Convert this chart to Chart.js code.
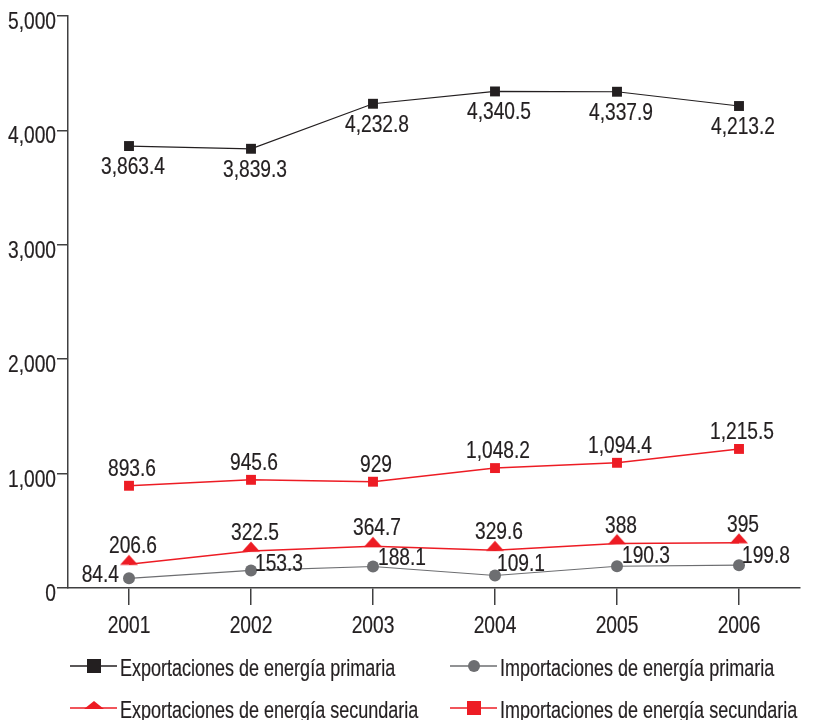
<!DOCTYPE html>
<html>
<head>
<meta charset="utf-8">
<script src="https://cdn.jsdelivr.net/npm/chart.js@4"></script>
<style>
  body { margin: 0; background: #fff; }
</style>
</head>
<body>
<canvas id="chart" width="813" height="720"></canvas>
<script>
const years = ["2001", "2002", "2003", "2004", "2005", "2006"];
const expPrimaria = [3863.4, 3839.3, 4232.8, 4340.5, 4337.9, 4213.2];
const impPrimaria = [84.4, 153.3, 188.1, 109.1, 190.3, 199.8];
const expSecundaria = [206.6, 322.5, 364.7, 329.6, 388, 395];
const impSecundaria = [893.6, 945.6, 929, 1048.2, 1094.4, 1215.5];
const yTicks = [0, 1000, 2000, 3000, 4000, 5000];

// condensed look: Liberation Sans squeezed horizontally
const FONT = '24px "Liberation Sans", Arial, sans-serif';
const NUM_SX = 0.8;
const LEG_SX = 0.75;
const TEXT = "#231f20";
const AXIS = "#404041";
const BLACK = "#231f20";
const GRAY = "#6d6e71";
const RED = "#ed1c24";

function squeezed(ctx, txt, x, y, align, sx) {
  ctx.save();
  ctx.translate(x, y);
  ctx.scale(sx, 1);
  ctx.textAlign = align;
  ctx.textBaseline = "alphabetic";
  ctx.strokeStyle = ctx.fillStyle;
  ctx.lineWidth = 0.2;
  ctx.fillText(txt, 0, 0);
  ctx.strokeText(txt, 0, 0);
  ctx.restore();
}

// flat triangle marker whose base sits on the data point
const tri = document.createElement("canvas");
tri.width = 20; tri.height = 28;
(function () {
  const c = tri.getContext("2d");
  c.fillStyle = RED;
  c.beginPath();
  c.moveTo(10, 4.5);
  c.lineTo(19, 14.5);
  c.lineTo(1, 14.5);
  c.closePath();
  c.fill();
})();

// label placement (dx, dy to baseline, align) per dataset / per point
const labelPos = [
  [4, 28, "center"],
  null,
  [4, -11, "center"],
  [3, -10, "center"]
];
const grayPos = [
  [-10, 4, "right"], [4, 1, "left"], [5, -1, "left"],
  [2, -5, "left"], [5, -3, "left"], [3, -2, "left"]
];

const fmt = v => v.toLocaleString("en-US", { maximumFractionDigits: 1 });

const textPlugin = {
  id: "textPlugin",
  afterDraw(chart) {
    const ctx = chart.ctx;
    ctx.save();
    ctx.font = FONT;
    ctx.fillStyle = TEXT;

    // axis tick labels
    const xs = chart.scales.x, ys = chart.scales.y;
    yTicks.forEach(v => {
      squeezed(ctx, v.toLocaleString("en-US"), 56, ys.getPixelForValue(v) + 13, "right", NUM_SX);
    });
    years.forEach((y, i) => {
      squeezed(ctx, y, xs.getPixelForValue(i), 633, "center", NUM_SX);
    });

    // point labels
    chart.data.datasets.forEach((ds, i) => {
      chart.getDatasetMeta(i).data.forEach((pt, j) => {
        const p = i === 1 ? grayPos[j] : labelPos[i];
        squeezed(ctx, fmt(ds.data[j]), pt.x + p[0], pt.y + p[1], p[2], NUM_SX);
      });
    });

    // legend
    const slots = [[70, 666], [450, 666], [70, 708], [450, 708]];
    chart.data.datasets.forEach((ds, i) => {
      const [lx, ly] = slots[i];
      ctx.strokeStyle = ds.borderColor;
      ctx.lineWidth = 1.5;
      ctx.beginPath();
      ctx.moveTo(lx, ly);
      ctx.lineTo(lx + 47, ly);
      ctx.stroke();
      const cx = lx + 24;
      ctx.fillStyle = ds.backgroundColor;
      if (i === 1) {
        ctx.beginPath();
        ctx.arc(cx, ly, 6, 0, Math.PI * 2);
        ctx.fill();
      } else if (i === 2) {
        ctx.beginPath();
        ctx.moveTo(cx, ly - 7);
        ctx.lineTo(cx + 10, ly + 1);
        ctx.lineTo(cx - 10, ly + 1);
        ctx.closePath();
        ctx.fill();
      } else {
        ctx.fillRect(cx - 7, ly - 7, 14, 14);
      }
      ctx.fillStyle = TEXT;
      squeezed(ctx, ds.label, lx + 50, ly + 10, "left", LEG_SX);
    });
    ctx.restore();
  }
};

new Chart(document.getElementById("chart"), {
  type: "line",
  data: {
    labels: years,
    datasets: [
      {
        label: "Exportaciones de energía primaria",
        data: expPrimaria,
        borderColor: BLACK, backgroundColor: BLACK, borderWidth: 1.2,
        pointStyle: "rect", pointRadius: 7, pointBorderWidth: 0
      },
      {
        label: "Importaciones de energía primaria",
        data: impPrimaria,
        borderColor: GRAY, backgroundColor: GRAY, borderWidth: 1.2,
        pointStyle: "circle", pointRadius: 6, pointBorderWidth: 0
      },
      {
        label: "Exportaciones de energía secundaria",
        data: expSecundaria,
        borderColor: RED, backgroundColor: RED, borderWidth: 1.5,
        pointStyle: tri, pointRadius: 10
      },
      {
        label: "Importaciones de energía secundaria",
        data: impSecundaria,
        borderColor: RED, backgroundColor: RED, borderWidth: 1.5,
        pointStyle: "rect", pointRadius: 7, pointBorderWidth: 0
      }
    ]
  },
  options: {
    responsive: false,
    animation: false,
    layout: { padding: { top: 16, right: 13, bottom: 70, left: 0 } },
    plugins: { legend: { display: false }, tooltip: { enabled: false } },
    scales: {
      x: {
        offset: true,
        afterFit: s => { s.height = 62; },
        grid: { drawOnChartArea: false, drawTicks: true, tickLength: 17, color: AXIS, lineWidth: 1.5, offset: false },
        border: { display: true, color: AXIS, width: 1.5 },
        ticks: { display: false }
      },
      y: {
        min: 0, max: 5000,
        afterFit: s => { s.width = 68; },
        afterBuildTicks: s => { s.ticks = yTicks.map(v => ({ value: v })); },
        grid: { drawOnChartArea: false, drawTicks: true, tickLength: 11, color: AXIS, lineWidth: 1.5 },
        border: { display: true, color: AXIS, width: 1.5 },
        ticks: { display: false }
      }
    }
  },
  plugins: [textPlugin]
});
</script>
</body>
</html>
